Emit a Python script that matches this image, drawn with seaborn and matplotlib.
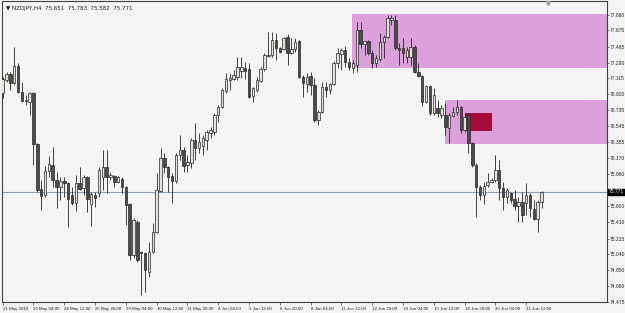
import matplotlib
matplotlib.use("Agg")
import matplotlib.pyplot as plt
from matplotlib.patches import Rectangle
import seaborn as sns
import numpy as np
import pandas as pd

# ---------------- data (NZDJPY H4) ----------------
opens = [76.936, 77.089, 77.160, 77.054, 77.254, 76.947, 76.841, 76.829, 76.936, 76.334,
         75.803, 75.732, 76.015, 76.086, 75.909, 75.826, 75.897, 75.874, 75.732, 75.638,
         75.874, 75.815, 75.944, 75.626, 75.732, 75.756, 75.944, 76.062, 75.944, 75.956,
         75.885, 75.921, 75.826, 75.626, 75.024, 75.413, 75.059, 75.048, 74.823, 75.059,
         75.295, 75.779, 76.169, 76.062, 75.956, 75.897, 76.204, 76.263, 76.086, 76.110,
         76.381, 76.287, 76.310, 76.381, 76.464, 76.475, 76.676, 76.770, 76.959, 77.089,
         77.101, 77.124, 77.195, 77.231, 77.219, 76.900, 76.971, 77.077, 77.219, 77.372,
         77.384, 77.561, 77.467, 77.455, 77.596, 77.408, 77.455, 77.549, 77.124, 77.042,
         77.136, 77.030, 76.617, 76.712, 77.006, 76.971, 77.042, 77.290, 77.396, 77.443,
         77.301, 77.231, 77.266, 77.679, 77.514, 77.549, 77.408, 77.290, 77.337, 77.537,
         77.596, 77.797, 77.797, 77.467, 77.467, 77.360, 77.360, 77.478, 77.183, 77.136,
         76.829, 77.018, 76.700, 76.759, 76.676, 76.676, 76.523, 76.664, 76.711, 76.770,
         76.499, 76.676, 76.346, 76.086, 75.826, 75.732, 75.850, 75.885, 75.909, 76.027,
         75.815, 75.708, 75.756, 75.685, 75.602, 75.649, 75.638, 75.732, 75.567, 75.449,
         75.651]
highs = [77.124, 77.183, 77.183, 77.478, 77.290, 77.065, 76.912, 76.947, 76.947, 76.346,
         75.909, 76.074, 76.192, 76.298, 76.003, 75.944, 75.944, 75.885, 75.826, 75.968,
         76.062, 75.968, 75.956, 75.768, 75.768, 76.062, 76.263, 76.263, 76.003, 75.968,
         75.956, 75.944, 75.838, 75.638, 75.461, 75.437, 75.071, 75.059, 75.177, 75.402,
         75.992, 76.287, 76.228, 76.074, 75.992, 76.228, 76.440, 76.298, 76.204, 76.405,
         76.582, 76.464, 76.440, 76.499, 76.534, 76.700, 76.794, 76.995, 77.172, 77.172,
         77.207, 77.360, 77.360, 77.301, 77.290, 77.006, 77.124, 77.242, 77.408, 77.655,
         77.655, 77.644, 77.478, 77.596, 77.632, 77.585, 77.585, 77.561, 77.148, 77.172,
         77.183, 77.113, 76.735, 77.065, 77.065, 77.054, 77.313, 77.467, 77.467, 77.490,
         77.349, 77.325, 77.773, 77.773, 77.549, 77.561, 77.443, 77.384, 77.644, 77.620,
         77.856, 77.856, 77.856, 77.526, 77.585, 77.478, 77.585, 77.502, 77.290, 77.148,
         77.030, 77.030, 76.995, 76.853, 76.794, 76.818, 76.700, 76.770, 76.853, 76.782,
         76.700, 76.700, 76.357, 76.110, 75.850, 75.885, 75.992, 75.933, 76.204, 76.145,
         75.885, 75.815, 75.768, 75.791, 75.708, 75.768, 75.874, 75.756, 75.673, 75.673,
         75.783]
lows = [76.877, 77.065, 76.971, 77.030, 76.936, 76.829, 76.794, 76.676, 76.086, 75.768,
        75.555, 75.708, 75.944, 75.826, 75.579, 75.673, 75.708, 75.354, 75.614, 75.543,
        75.791, 75.732, 75.531, 75.366, 75.590, 75.708, 75.791, 75.756, 75.909, 75.826,
        75.874, 75.756, 75.378, 74.965, 74.989, 74.941, 74.552, 74.587, 74.764, 75.048,
        75.284, 75.768, 75.992, 75.768, 75.638, 75.874, 76.145, 76.003, 76.003, 76.051,
        76.145, 76.228, 76.204, 76.263, 76.405, 76.440, 76.593, 76.759, 76.936, 76.971,
        77.089, 77.089, 77.113, 77.101, 76.877, 76.829, 76.947, 77.065, 77.195, 77.360,
        77.360, 77.325, 77.408, 77.443, 77.266, 77.396, 77.419, 77.113, 76.888, 76.947,
        76.912, 76.593, 76.558, 76.700, 76.888, 76.930, 77.030, 77.231, 77.207, 77.242,
        77.207, 77.172, 77.183, 77.467, 77.384, 77.384, 77.231, 77.242, 77.313, 77.349,
        77.585, 77.738, 77.443, 77.266, 77.290, 77.290, 77.266, 77.172, 77.124, 76.782,
        76.817, 76.676, 76.676, 76.653, 76.641, 76.440, 76.346, 76.653, 76.676, 76.464,
        76.475, 76.228, 76.062, 75.472, 75.673, 75.626, 75.826, 75.874, 75.885, 75.673,
        75.555, 75.638, 75.638, 75.555, 75.413, 75.413, 75.496, 75.472, 75.437, 75.295,
        75.582]
closes = [77.101, 77.160, 77.054, 77.254, 76.947, 76.841, 76.853, 76.936, 76.334, 75.791,
          75.720, 76.015, 76.098, 75.909, 75.826, 75.897, 75.874, 75.685, 75.638, 75.874,
          75.803, 75.944, 75.685, 75.744, 75.697, 76.027, 76.062, 75.944, 75.968, 75.885,
          75.944, 75.826, 75.614, 75.024, 75.437, 74.965, 75.048, 74.847, 75.059, 75.295,
          75.791, 76.169, 76.062, 75.944, 75.897, 76.204, 76.263, 76.074, 76.121, 76.381,
          76.287, 76.357, 76.405, 76.475, 76.499, 76.676, 76.770, 76.971, 77.101, 77.113,
          77.148, 77.242, 77.242, 77.195, 76.888, 76.995, 77.089, 77.219, 77.384, 77.384,
          77.561, 77.467, 77.419, 77.585, 77.408, 77.455, 77.537, 77.124, 77.054, 77.124,
          77.030, 76.617, 76.712, 77.006, 76.971, 77.042, 77.290, 77.408, 77.443, 77.301,
          77.242, 77.290, 77.679, 77.514, 77.549, 77.408, 77.290, 77.349, 77.537, 77.596,
          77.821, 77.821, 77.467, 77.443, 77.408, 77.443, 77.478, 77.183, 77.136, 76.829,
          77.018, 76.700, 76.912, 76.700, 76.759, 76.534, 76.676, 76.711, 76.770, 76.499,
          76.653, 76.346, 76.086, 75.826, 75.732, 75.838, 75.885, 75.909, 76.027, 75.815,
          75.708, 75.791, 75.673, 75.602, 75.649, 75.496, 75.732, 75.579, 75.449, 75.649,
          75.771]

tick_labels = ["21 May 2018", "23 May 04:00", "24 May 12:00", "25 May 20:00", "29 May 04:00",
               "30 May 12:00", "31 May 20:00", "4 Jun 04:00", "5 Jun 12:00", "6 Jun 20:00",
               "8 Jun 04:00", "11 Jun 12:00", "12 Jun 20:00", "14 Jun 04:00", "15 Jun 12:00",
               "18 Jun 20:00", "20 Jun 04:00", "21 Jun 12:00"]
price_ticks = [77.860, 77.675, 77.485, 77.290, 77.115, 76.920, 76.735, 76.545, 76.355,
               76.170, 75.980, 75.600, 75.410, 75.215, 75.040, 74.850, 74.660, 74.475]
current_price = 75.771
symbol = "NZDJPY,H4"

# supply/demand zones: (start bar, top price, bottom price)
zone_upper = [90.7, 77.868, 77.228]
zone_lower = [114.9, 76.854, 76.335]
zone_red = [120.1, 127.0, 76.697, 76.492]

df = pd.DataFrame({"open": opens, "high": highs, "low": lows, "close": closes})
df["bar"] = np.arange(len(df))
df["bull"] = df["close"] >= df["open"]

# ---------------- figure ----------------
sns.set_theme(style="white")
plt.rcParams["font.family"] = ["Liberation Sans", "DejaVu Sans"]
bg = "#f4f4f4"
fig = plt.figure(figsize=(6.25, 3.13), dpi=100, facecolor=bg)
ax = fig.add_axes([2 / 625, 11 / 313, 605 / 625, 301 / 313])
ax.set_facecolor(bg)

xmax = 157.0
ax.set_xlim(-0.18, xmax)
ax.set_ylim(74.472, 78.022)

# zones
ax.add_patch(Rectangle((zone_upper[0], zone_upper[2]), xmax - zone_upper[0],
                       zone_upper[1] - zone_upper[2], facecolor="#dda0dd", edgecolor="none", zorder=1))
ax.add_patch(Rectangle((zone_lower[0], zone_lower[2]), xmax - zone_lower[0],
                       zone_lower[1] - zone_lower[2], facecolor="#dda0dd", edgecolor="none", zorder=1))
ax.add_patch(Rectangle((zone_red[0], zone_red[3]), zone_red[1] - zone_red[0],
                       zone_red[2] - zone_red[3], facecolor="#a50d3a", edgecolor="none", zorder=1.5))

# current price line
ax.axhline(current_price, color="#8fa0b2", lw=0.8, zorder=1.2)

# candles
edge = "#262626"
ax.vlines(df["bar"], df["low"], df["high"], color=edge, lw=0.6, zorder=2)
body_lo = np.minimum(df["open"], df["close"])
body_h = np.maximum(np.abs(df["close"] - df["open"]), 0.006)
colors = np.where(df["bull"], "#e2e2d8", "#4c4c4c")
ax.bar(df["bar"], body_h, bottom=body_lo, width=0.64, color=colors,
       edgecolor=edge, linewidth=0.5, zorder=3)

# axes styling
for s in ["top", "left", "right", "bottom"]:
    ax.spines[s].set_color("#404040")
    ax.spines[s].set_linewidth(0.8)

ax.yaxis.tick_right()
ax.set_yticks(price_ticks)
ax.set_yticklabels([f"{v:.3f}" for v in price_ticks])
ax.tick_params(axis="y", which="both", right=True, left=False, length=1.5, width=0.5,
               color="#404040", pad=0.6, labelsize=3.6, labelcolor="#202020")

xt = np.arange(0, 8 * len(tick_labels), 8)
ax.set_xticks(xt)
ax.set_xticklabels(tick_labels, ha="left")
ax.tick_params(axis="x", which="both", bottom=True, length=2.5, width=0.5,
               color="#404040", pad=1, labelsize=3.2, labelcolor="#202020")
for lab in ax.get_xticklabels():
    lab.set_horizontalalignment("left")

# current price tag
ax.annotate(f"{current_price:.3f}", xy=(1.0, current_price), xycoords=("axes fraction", "data"),
            xytext=(1.3, 0), textcoords="offset points", va="center", ha="left",
            fontsize=3.6, color="white", annotation_clip=False,
            bbox=dict(boxstyle="square,pad=0.12", fc="black", ec="black"))

# header
ax.text(0.006, 0.985, "\u25BC " + symbol + "  " + "  ".join(f"{v:.3f}" for v in
        [opens[-1], highs[-1], lows[-1], closes[-1]]),
        transform=ax.transAxes, fontsize=4.0, va="top", ha="left", color="#202020",
        family=["DejaVu Sans"])

# chart shift marker
ax.plot([141.8], [78.0], marker="v", color="#9aa0a8", markersize=3, clip_on=False, zorder=4)

fig.savefig("out.png", dpi=100, facecolor=bg)
